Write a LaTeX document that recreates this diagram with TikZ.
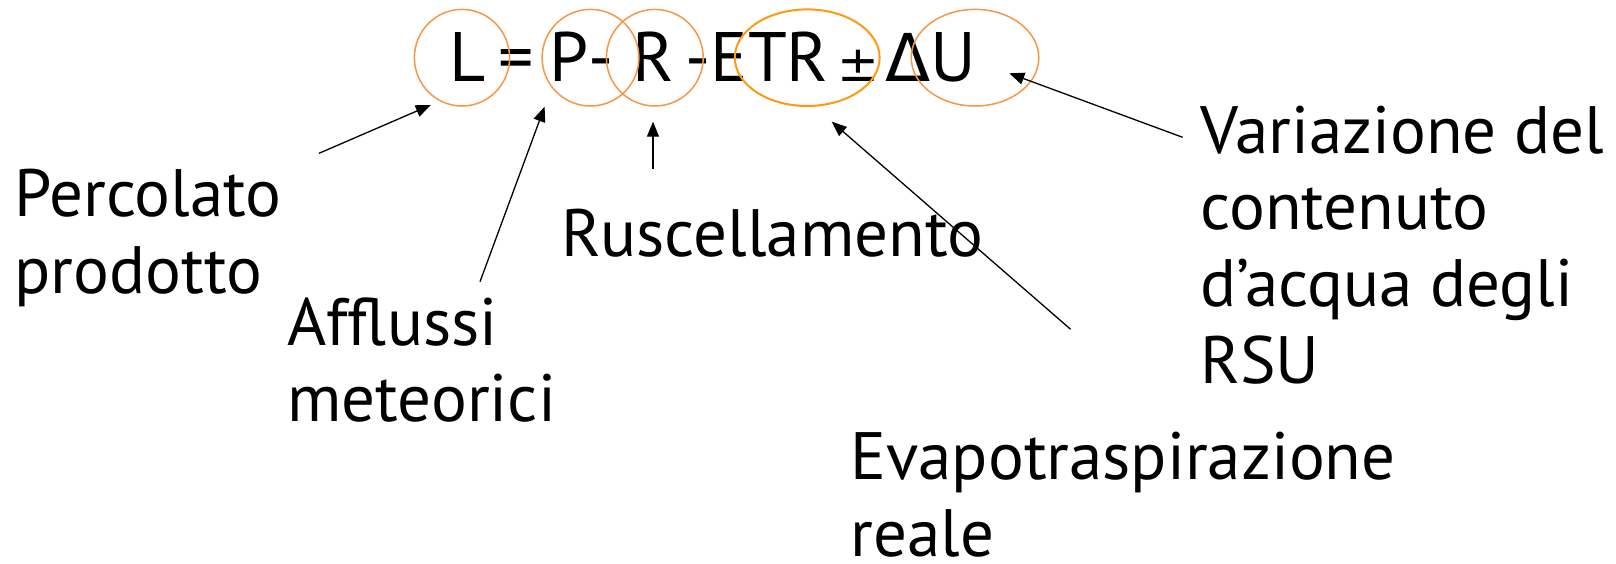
\documentclass[tikz,border=0pt]{standalone}
\usepackage{fontspec}
\setmainfont{PT Sans}
\newfontfamily\symfont{DejaVu Sans}
\usetikzlibrary{arrows.meta}
\definecolor{ringorange}{HTML}{F79646}
\definecolor{ringdeep}{HTML}{FF9A10}
\begin{document}
\begin{tikzpicture}[x=0.5pt,y=-0.5pt,
  term/.style={inner sep=0pt,anchor=base,font=\fontsize{35}{42}\selectfont},
  lbl/.style={inner sep=0pt,anchor=base west,align=left,font=\fontsize{33.5}{38.35}\selectfont},
  ring/.style={draw=ringorange,line width=0.75pt},
  ringbold/.style={draw=ringdeep,line width=1pt},
  pointer/.style={draw=black,line width=0.65pt,-{Triangle[length=7.5pt,width=6pt]}}]
\useasboundingbox (0,0) rectangle (1616,563);

% equation terms
\node[term] (tL)   at (468,81.5) {L};
\node[term] (tEq)  at (516,81.5) {=};
\node[term] (tP)   at (581.5,81.5) {P-};
\node[term] (tR)   at (653,81.5) {R};
\node[term] (tM)   at (698,81.5) {-};
\node[term] (tETR) at (769.5,81.5) {ETR};
\node[term] (tPM)  at (858,81.5) {{\symfont\fontsize{25}{42}\selectfont ±}};
\node[term] (tDU)  at (931,81.5) {{\symfont\fontsize{33}{42}\selectfont Δ}U};

% rings around the terms
\draw[ring]     (462,57.7) ellipse [x radius=47.6, y radius=48.3];
\draw[ring]     (590.5,57.7) ellipse [x radius=48.4, y radius=48.3];
\draw[ring]     (654.8,57.7) ellipse [x radius=48.4, y radius=48.3];
\draw[ringbold] (807.2,57.7) ellipse [x radius=72.4, y radius=48.3];
\draw[ring]     (975,57.7) ellipse [x radius=63.8, y radius=48.3];

% labels (anchored on the baseline of their last line)
\node[lbl] (perc) at (14,293.3)   {Percolato\\prodotto};
\node[lbl] (affl) at (287,421.7)  {Afflussi\\meteorici};
\node[lbl] (rusc) at (561,256.7)  {Ruscellamento};
\node[lbl] (vari) at (1200,383.3) {Variazione del\\contenuto\\d’acqua degli\\RSU};
\node[lbl] (evap) at (850,556)    {Evapotraspirazione\\reale};

% arrow ends
\coordinate (percT) at (319,153.3);  \coordinate (percH) at (430.8,105);
\coordinate (afflT) at (480,281.7);  \coordinate (afflH) at (544.6,106.7);
\coordinate (ruscT) at (653,169.3);  \coordinate (ruscH) at (653,121.7);
\coordinate (evapT) at (1070.6,329.3); \coordinate (evapH) at (831.7,121.7);
\coordinate (variT) at (1182.6,137.3); \coordinate (variH) at (1009.3,73.3);

\draw[pointer] (percT) -- (percH);
\draw[pointer] (afflT) -- (afflH);
\draw[pointer] (ruscT) -- (ruscH);
\draw[pointer] (evapT) -- (evapH);
\draw[pointer] (variT) -- (variH);
\end{tikzpicture}
\end{document}
